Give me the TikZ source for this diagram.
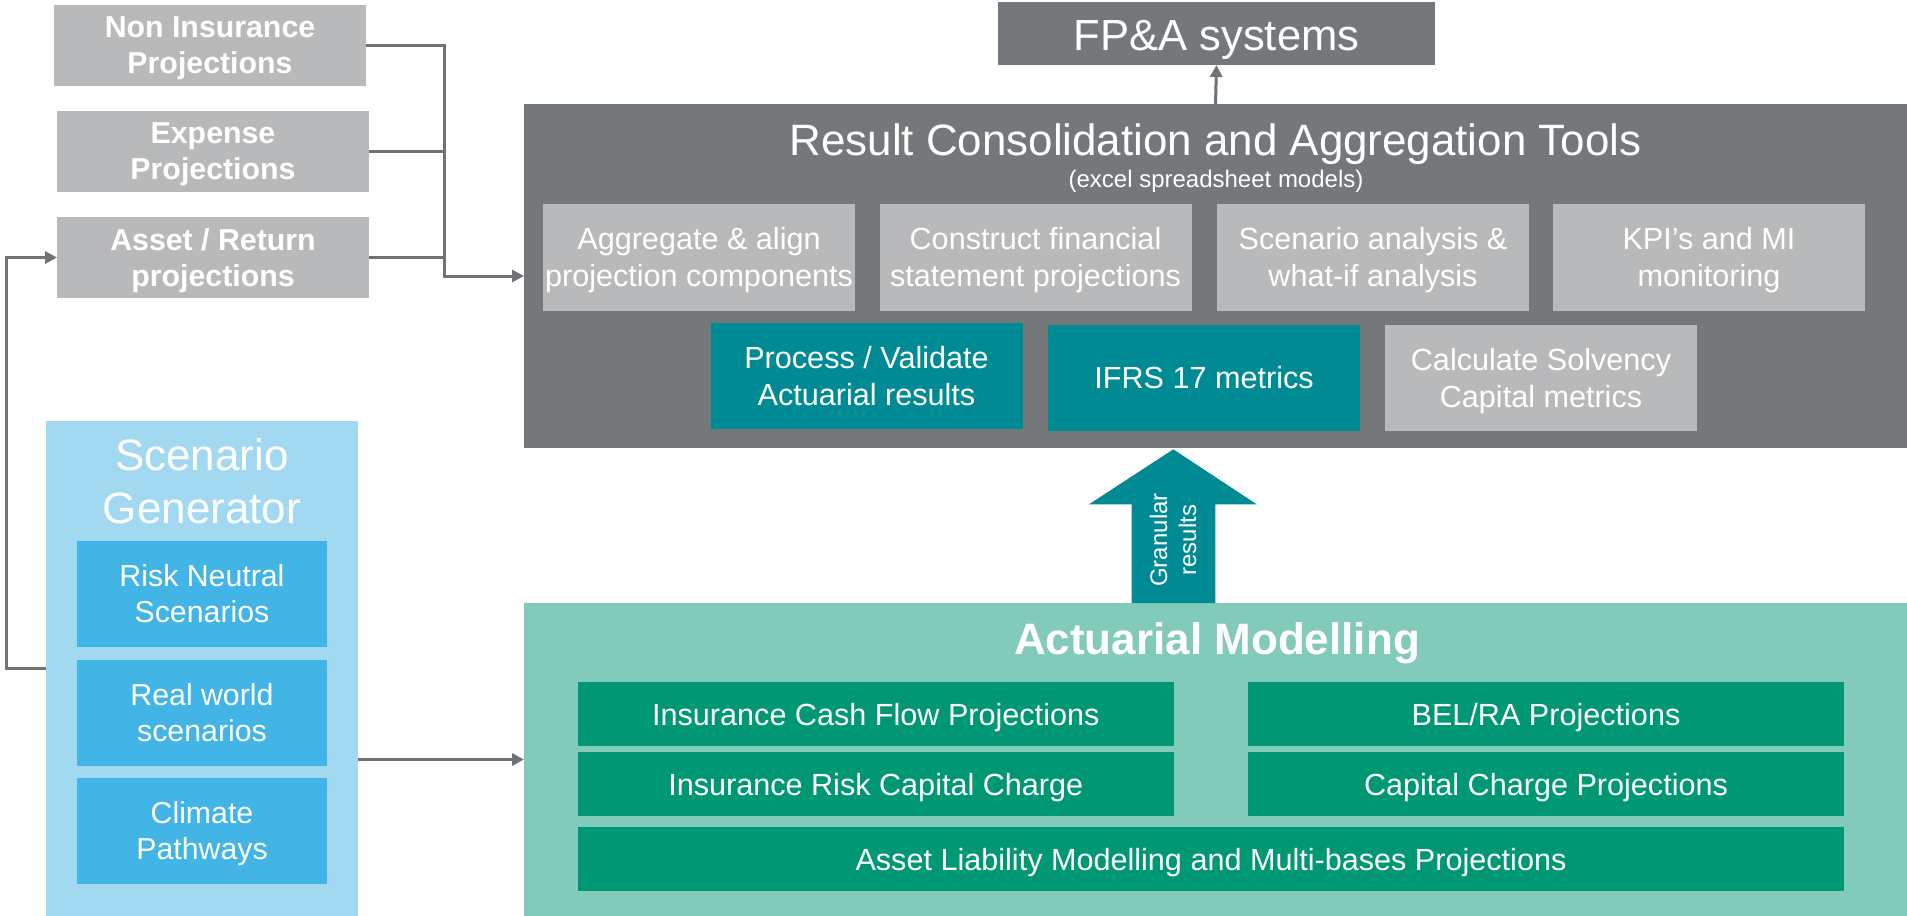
\documentclass[tikz,border=0pt]{standalone}
\usepackage{fontspec}
\setmainfont{Liberation Sans}
\usetikzlibrary{arrows.meta,calc}
\definecolor{lgray}{HTML}{B8B9BB}
\definecolor{dgray}{HTML}{75787B}
\definecolor{teal1}{HTML}{008B94}
\definecolor{lblue}{HTML}{A2D9F1}
\definecolor{mblue}{HTML}{42B4E5}
\definecolor{lgreen}{HTML}{82CBBA}
\definecolor{dgreen}{HTML}{009874}
\definecolor{linec}{HTML}{707275}
\tikzset{
  lbox/.style={fill=lgray, minimum width=312pt, minimum height=81pt, text depth=0pt, font=\fontsize{30.3}{36}\selectfont\bfseries},
  rbox/.style={fill=lgray, minimum width=312pt, minimum height=106.5pt, text depth=0pt, font=\fontsize{30.6}{37}\selectfont},
  tbox/.style={fill=teal1, minimum width=312pt, minimum height=106pt, text depth=0pt, font=\fontsize{30.6}{37}\selectfont},
  bbox/.style={fill=mblue, minimum width=250pt, minimum height=106pt, text depth=0pt, font=\fontsize{30.3}{36}\selectfont},
  gbox/.style={fill=dgreen, minimum width=596pt, minimum height=64pt, font=\fontsize{30.6}{36}\selectfont, text height=22pt, text depth=0pt},
  conn/.style={draw=linec, line width=3pt},
  arr/.style={conn, -{Triangle[length=12pt,width=12pt]}},
}
\begin{document}
\begin{tikzpicture}[x=1pt,y=-1pt,
  every node/.style={inner sep=0pt, outer sep=0pt, text=white, align=center}]
\useasboundingbox (0,0) rectangle (1907,916);

% left grey inputs
\node[lbox] (nonins) at (210,45.5) {Non Insurance\\Projections};
\node[lbox] (expense) at (213,151.5) {Expense\\Projections};
\node[lbox] (asset) at (213,257.5) {Asset / Return\\projections};

% FP&A
\node[fill=dgray, minimum width=437pt, minimum height=63pt, font=\fontsize{43.6}{50}\selectfont, text height=33pt, text depth=0pt] (fpa) at (1216.5,33.5) {FP\&A systems};

% Result consolidation
\node[fill=dgray, minimum width=1383pt, minimum height=344pt] (result) at (1215.5,276) {};
\node[anchor=base, font=\fontsize{43.9}{50}\selectfont] (rtitle) at (1215.5,155) {Result Consolidation and Aggregation Tools};
\node[anchor=base, font=\fontsize{24}{28}\selectfont] (rsub) at (1216,187) {(excel spreadsheet models)};
\node[rbox] (agg) at (699,257.4) {Aggregate \& align\\projection components};
\node[rbox] (cons) at (1035.5,257.4) {Construct financial\\statement projections};
\node[rbox] (scan) at (1373,257.4) {Scenario analysis \&\\what-if analysis};
\node[rbox] (kpi) at (1709,257.4) {KPI’s and MI\\monitoring};
\node[tbox] (proc) at (866.5,376) {Process / Validate\\Actuarial results};
\node[tbox, text height=21.5pt] (ifrs) at (1204,378) {IFRS 17 metrics};
\node[rbox] (calc) at (1541,378) {Calculate Solvency\\Capital metrics};

% Scenario generator
\node[fill=lblue, minimum width=312pt, minimum height=495pt] (scen) at (202,668.5) {};
\node[font=\fontsize{44}{53}\selectfont] (stitle) at (202,481) {Scenario\\Generator};
\node[bbox] (rn) at (202,594) {Risk Neutral\\Scenarios};
\node[bbox] (rw) at (202,712.5) {Real world\\scenarios};
\node[bbox] (cp) at (202,830.5) {Climate\\Pathways};

% Actuarial modelling
\node[fill=lgreen, minimum width=1383pt, minimum height=313pt] (act) at (1215.5,759.5) {};
\node[anchor=base, font=\fontsize{44}{50}\selectfont\bfseries] (atitle) at (1217,654) {Actuarial Modelling};
\node[gbox] (icf) at (875.8,714) {Insurance Cash Flow Projections};
\node[gbox] (bel) at (1546,714) {BEL/RA Projections};
\node[gbox] (irc) at (875.8,784) {Insurance Risk Capital Charge};
\node[gbox] (ccp) at (1546,784) {Capital Charge Projections};
\node[gbox, minimum width=1266pt] (alm) at (1211,859) {Asset Liability Modelling and Multi-bases Projections};

% big arrow
\fill[teal1] (1131.7,603) -- (1131.7,504.3) -- (1089,504.3) -- (1173.3,449.3) -- (1256.7,504.3) -- (1215.3,504.3) -- (1215.3,603) -- cycle;
\node[rotate=90, font=\fontsize{24}{29}\selectfont] (gran) at (1173,540) {Granular\\results};

% connectors
\coordinate (bus) at (444.6,276);
\coordinate (fb) at (6,668.5);
\draw[arr] (nonins.east) -| (bus) -- (result.west);
\draw[conn] (expense.east) -- (expense.east -| bus);
\draw[conn] (asset.east) -- (asset.east -| bus);
\draw[arr] (scen.west) -- (fb) |- (asset.west);
\draw[arr] (scen.east |- act.west) -- (act.west);
\draw[arr] (result.north) -- (fpa.south);
\end{tikzpicture}
\end{document}
